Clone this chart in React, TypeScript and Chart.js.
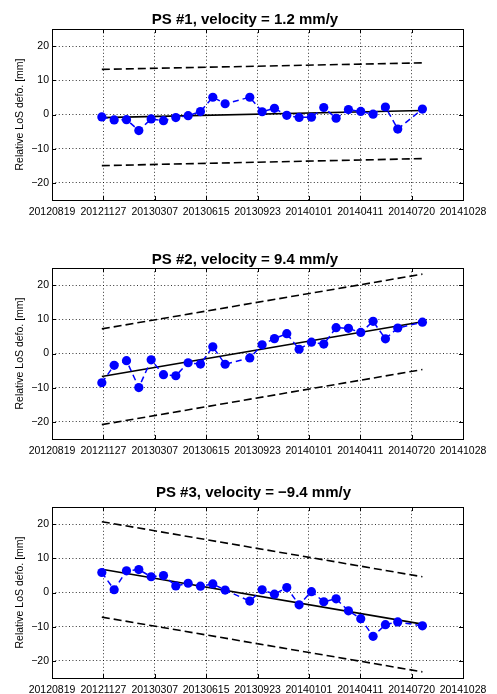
import React, { useEffect, useRef } from 'react';
import { Chart, registerables } from 'chart.js';

Chart.register(...registerables);

// ---------- data ----------
const tickLabels = ['20120819', '20121127', '20130307', '20130615', '20130923', '20140101', '20140411', '20140720', '20141028'];
const yTickValues = [-20, -10, 0, 10, 20];
const yLabel = 'Relative LoS defo. [mm]';

const dates = [
  '20121124', '20121218', '20130111', '20130204', '20130228', '20130324', '20130417', '20130511',
  '20130604', '20130628', '20130722', '20130908', '20131002', '20131026', '20131119', '20131213',
  '20140106', '20140130', '20140223', '20140319', '20140412', '20140506', '20140530', '20140623', '20140810',
];

const titles = ['PS #1, velocity = 1.2 mm/y', 'PS #2, velocity = 9.4 mm/y', 'PS #3, velocity = \u22129.4 mm/y'];

const ps1 = [-0.7, -1.6, -1.5, -4.7, -1.3, -1.8, -0.9, -0.35, 0.85, 5.05, 3.15, 5.05, 0.8, 1.8, -0.25, -0.85, -0.8, 2.05, -1.1, 1.45, 0.9, 0.1, 2.2, -4.25, 1.6];
const ps2 = [-8.55, -3.45, -2.1, -9.95, -1.85, -6.2, -6.5, -2.7, -3.1, 1.95, -3.15, -1.3, 2.55, 4.35, 5.8, 1.25, 3.3, 2.75, 7.55, 7.35, 6.15, 9.4, 4.3, 7.45, 9.15];
const ps3 = [5.85, 0.8, 6.35, 6.7, 4.6, 4.95, 1.9, 2.7, 1.85, 2.5, 0.7, -2.5, 0.8, -0.5, 1.45, -3.6, 0.25, -2.7, -1.85, -5.35, -7.65, -12.8, -9.4, -8.6, -9.75];

// linear fit and bounds: values at first and last date
const trend1 = [-0.9, 1.15];
const upper1 = [13.2, 15.1];
const lower1 = [-14.95, -12.9];
const trend2 = [-6.75, 9.3];
const upper2 = [7.2, 23.2];
const lower2 = [-20.8, -4.7];
const trend3 = [6.8, -9.25];
const upper3 = [20.7, 4.6];
const lower3 = [-7.2, -23.2];

// ---------- helpers ----------
const toUTC = (s: string) => Date.UTC(+s.slice(0, 4), +s.slice(4, 6) - 1, +s.slice(6, 8));
const dayOf = (s: string) => (toUTC(s) - toUTC(tickLabels[0])) / 86400000;
const fmtY = (v: number) => (v < 0 ? '\u2212' + Math.abs(v) : String(v));

const FONT = "'Liberation Sans', Arial, Helvetica, sans-serif";

type PanelProps = {
  title: string;
  titleX: number;
  titleBase: number;
  values: number[];
  trend: number[];
  upper: number[];
  lower: number[];
  top: number;
};

function Panel({ title, titleX, titleBase, values, trend, upper, lower, top }: PanelProps) {
  const ref = useRef<HTMLCanvasElement | null>(null);

  useEffect(() => {
    if (!ref.current) return;
    const x0 = dayOf(dates[0]);
    const x1 = dayOf(dates[dates.length - 1]);
    const seg = (v: number[]) => [
      { x: x0, y: v[0] },
      { x: x1, y: v[1] },
    ];

    const framePlugin = {
      id: 'frameAndTitle',
      afterDraw(chart: any) {
        const { ctx, chartArea } = chart;
        const { left, right, top: t, bottom } = chartArea;
        ctx.save();
        ctx.strokeStyle = '#000';
        ctx.lineWidth = 1;
        ctx.setLineDash([]);
        ctx.strokeRect(Math.round(left) + 0.5, Math.round(t) + 0.5, Math.round(right - left), Math.round(bottom - t));
        // inner tick marks
        const xs = chart.scales.x;
        const ys = chart.scales.y;
        ctx.beginPath();
        tickLabels.forEach((lab) => {
          const px = Math.round(xs.getPixelForValue(dayOf(lab))) + 0.5;
          ctx.moveTo(px, bottom);
          ctx.lineTo(px, bottom - 4);
          ctx.moveTo(px, t);
          ctx.lineTo(px, t + 4);
        });
        yTickValues.forEach((v) => {
          const py = Math.round(ys.getPixelForValue(v)) + 0.5;
          ctx.moveTo(left, py);
          ctx.lineTo(left + 4, py);
          ctx.moveTo(right, py);
          ctx.lineTo(right - 4, py);
        });
        ctx.stroke();
        // title
        ctx.fillStyle = '#000';
        ctx.font = `bold 15px ${FONT}`;
        ctx.textAlign = 'center';
        ctx.textBaseline = 'alphabetic';
        ctx.fillText(title, titleX, titleBase);
        ctx.restore();
      },
    };

    const chart = new Chart(ref.current, {
      type: 'line',
      data: {
        datasets: [
          {
            label: 'data',
            data: dates.map((d, i) => ({ x: dayOf(d), y: values[i] })),
            borderColor: '#0000ff',
            backgroundColor: '#0000ff',
            borderWidth: 1.5,
            borderDash: [6, 4],
            pointRadius: 4.6,
            pointBorderWidth: 0,
            pointBackgroundColor: '#0000ff',
            tension: 0,
            order: 0,
          },
          {
            label: 'trend',
            data: seg(trend),
            borderColor: '#000',
            borderWidth: 1.6,
            pointRadius: 0,
            tension: 0,
            order: 1,
          },
          {
            label: 'upper',
            data: seg(upper),
            borderColor: '#000',
            borderWidth: 1.6,
            borderDash: [8, 4],
            pointRadius: 0,
            tension: 0,
            order: 2,
          },
          {
            label: 'lower',
            data: seg(lower),
            borderColor: '#000',
            borderWidth: 1.6,
            borderDash: [8, 4],
            pointRadius: 0,
            tension: 0,
            order: 2,
          },
        ],
      },
      options: {
        animation: false,
        responsive: false,
        devicePixelRatio: 1,
        layout: { padding: { top: 29, right: 34, bottom: 0, left: 0 } },
        plugins: {
          legend: { display: false },
          title: { display: false },
          tooltip: { enabled: false },
        },
        scales: {
          x: {
            type: 'linear',
            min: 0,
            max: dayOf(tickLabels[tickLabels.length - 1]),
            afterBuildTicks: (scale: any) => {
              scale.ticks = tickLabels.map((l) => ({ value: dayOf(l) }));
            },
            afterFit: (scale: any) => {
              scale.height = 16;
            },
            ticks: {
              autoSkip: false,
              maxRotation: 0,
              minRotation: 0,
              padding: 6,
              color: '#000',
              font: { family: FONT, size: 10.5 },
              callback: (_v: any, i: number) => tickLabels[i],
            },
            grid: { color: 'rgba(0,0,0,0.8)', lineWidth: 1, drawTicks: false },
            border: { display: false, dash: [1, 2.4] },
          },
          y: {
            type: 'linear',
            min: -25,
            max: 25,
            afterBuildTicks: (scale: any) => {
              scale.ticks = yTickValues.map((v) => ({ value: v }));
            },
            afterFit: (scale: any) => {
              scale.width = 52;
            },
            ticks: {
              padding: 3,
              color: '#000',
              font: { family: FONT, size: 10.5 },
              callback: (v: any) => fmtY(Number(v)),
            },
            grid: { color: 'rgba(0,0,0,0.8)', lineWidth: 1, drawTicks: false },
            border: { display: false, dash: [1, 2.4] },
            title: {
              display: true,
              text: yLabel,
              color: '#000',
              font: { family: FONT, size: 10.5 },
              padding: { top: 13.7, bottom: 0 },
            },
          },
        },
      },
      plugins: [framePlugin],
    } as any);

    return () => chart.destroy();
  }, [title, titleX, titleBase, values, trend, upper, lower]);

  return (
    <canvas
      ref={ref}
      width={497}
      height={216}
      style={{ position: 'absolute', left: 0, top, width: 497, height: 216, display: 'block' }}
    />
  );
}

export default function App() {
  return (
    <div style={{ position: 'absolute', left: 0, top: 0, width: 497, height: 694, background: '#fff' }}>
      <Panel title={titles[0]} titleX={245} titleBase={23.5} values={ps1} trend={trend1} upper={upper1} lower={lower1} top={0} />
      <Panel title={titles[1]} titleX={245} titleBase={24.5} values={ps2} trend={trend2} upper={upper2} lower={lower2} top={239} />
      <Panel title={titles[2]} titleX={253.5} titleBase={19} values={ps3} trend={trend3} upper={upper3} lower={lower3} top={478} />
    </div>
  );
}
